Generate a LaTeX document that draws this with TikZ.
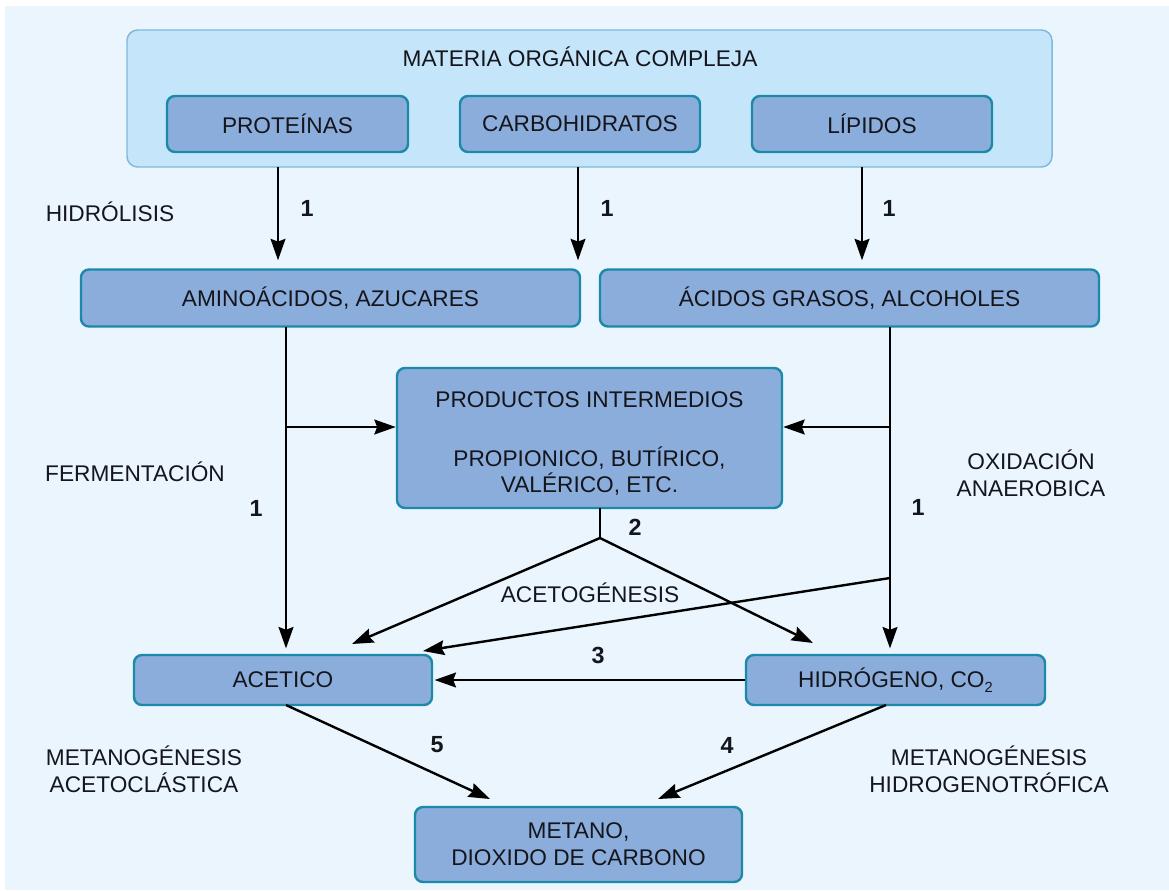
\documentclass[tikz,border=0pt]{standalone}
\usepackage{fontspec}
\setmainfont{Liberation Sans}
\usetikzlibrary{arrows.meta,calc}
\definecolor{bgc}{HTML}{EAF5FD}
\definecolor{outerfill}{HTML}{C5E6FA}
\definecolor{outerdraw}{HTML}{80B9D9}
\definecolor{boxfill}{HTML}{8BADDB}
\definecolor{boxdraw}{HTML}{1A89AA}
\definecolor{txt}{HTML}{15151C}
\tikzset{
  box/.style={draw=boxdraw, fill=boxfill, line width=1.8pt, rounded corners=6pt, align=center, inner sep=0pt, text=txt},
  lbl/.style={align=center, text=txt, inner sep=0pt},
  num/.style={text=txt, font=\bfseries\fontsize{17.5}{19}\selectfont, inner sep=0pt},
  arr/.style={line width=2.2pt, -{Stealth[length=16pt,width=11pt,inset=2pt]}},
  ln/.style={line width=2.2pt},
  darr/.style={line width=1.8pt, -{Stealth[length=16pt,width=11pt,inset=2pt]}},
}
\begin{document}
\begin{tikzpicture}[x=0.75pt,y=-0.75pt,font=\fontsize{17}{20}\selectfont]
\useasboundingbox (0,0) rectangle (1169,890);
\fill[bgc] (5,6) rectangle (1169,890);
% outer container
\node[draw=outerdraw, fill=outerfill, line width=1.1pt, rounded corners=8pt, minimum width=693.75pt, minimum height=102.75pt, inner sep=0pt] (mat) at (589.5,98.5) {};
\node[lbl] (mattitle) at (580,57) {MATERIA ORGÁNICA COMPLEJA};
\node[box, minimum width=180.75pt, minimum height=42pt] (prot) at (287.5,124) {PROTEÍNAS};
\node[box, minimum width=180pt, minimum height=42pt] (carb) at (580,124) {CARBOHIDRATOS};
\node[box, minimum width=180pt, minimum height=42pt] (lip) at (872,124) {LÍPIDOS};
% second row
\node[box, minimum width=374.25pt, minimum height=42.75pt] (amino) at (330.5,298) {AMINOÁCIDOS, AZUCARES};
\node[box, minimum width=374.25pt, minimum height=42.75pt] (acidos) at (849.5,298) {ÁCIDOS GRASOS, ALCOHOLES};
% intermediate
\node[box, minimum width=288.75pt, minimum height=105pt] (prod) at (589.5,438) {};
\node[lbl] (prodt1) at (589.5,400) {PRODUCTOS INTERMEDIOS};
\node[lbl] (prodt2) at (589.5,471) {PROPIONICO, BUTÍRICO,\\VALÉRICO, ETC.};
% lower row
\node[box, minimum width=223.5pt, minimum height=37.5pt] (acet) at (283,680) {ACETICO};
\node[box, minimum width=224.25pt, minimum height=37.5pt] (hidr) at (895.5,680) {HIDRÓGENO, CO\raisebox{-0.45ex}{\fontsize{11}{12}\selectfont 2}};
\node[box, minimum width=245.25pt, minimum height=56.25pt] (met) at (578.5,844.5) {METANO,\\DIOXIDO DE CARBONO};
% labels
\node[lbl] (hidrol) at (110,212) {HIDRÓLISIS};
\node[lbl] (ferm) at (135,472) {FERMENTACIÓN};
\node[lbl] (oxid) at (1031,473) {OXIDACIÓN\\ANAEROBICA};
\node[lbl] (acetog) at (590,593) {ACETOGÉNESIS};
\node[lbl] (metac) at (144,769) {METANOGÉNESIS\\ACETOCLÁSTICA};
\node[lbl] (methi) at (989,769) {METANOGÉNESIS\\HIDROGENOTRÓFICA};
% numbers
\node[num] (n1a) at (307,208) {1};
\node[num] (n1b) at (607,208) {1};
\node[num] (n1c) at (889,208) {1};
\node[num] (n1d) at (256,508) {1};
\node[num] (n1e) at (918,507) {1};
\node[num] (n2) at (635,527) {2};
\node[num] (n3) at (598,655) {3};
\node[num] (n5) at (437,745) {5};
\node[num] (n4) at (727,745) {4};
% hydrolysis arrows
\coordinate (h1) at (278,167);
\coordinate (h2) at (578,167);
\coordinate (h3) at (862,167);
\draw[arr, shorten >=6pt] (h1) -- (h1 |- amino.north);
\draw[arr, shorten >=6pt] (h2) -- (h2 |- amino.north);
\draw[arr, shorten >=6pt] (h3) -- (h3 |- acidos.north);
% fermentation
\coordinate (fl) at (286,427);
\coordinate (ft) at (286,327);
\draw[arr, shorten >=4pt] (ft) -- (ft |- acet.north);
\draw[arr] (fl) -- (fl -| prod.west);
% anaerobic oxidation
\coordinate (ot) at (890,327);
\coordinate (ol) at (890,427);
\coordinate (od) at (890,578);
\coordinate (oa) at (423,651);
\draw[arr, shorten >=4pt] (ot) -- (ot |- hidr.north);
\draw[arr] (ol) -- (ol -| prod.east);
\draw[darr] (od) -- (oa);
% acetogenesis fork
\coordinate (ps) at (600,508);
\coordinate (fork) at (600,538);
\coordinate (fa) at (352,644);
\coordinate (fh) at (813,643);
\draw[ln] (ps) -- (fork);
\draw[darr] (fork) -- (fa);
\draw[darr] (fork) -- (fh);
% 3
\draw[arr, shorten >=1pt] (hidr.west) -- (acet.east);
% methanogenesis
\coordinate (as) at (286,705);
\coordinate (hs) at (886,705);
\coordinate (m5) at (490,799);
\coordinate (m4) at (658,799);
\draw[darr] (as) -- (m5);
\draw[darr] (hs) -- (m4);
\end{tikzpicture}
\end{document}
